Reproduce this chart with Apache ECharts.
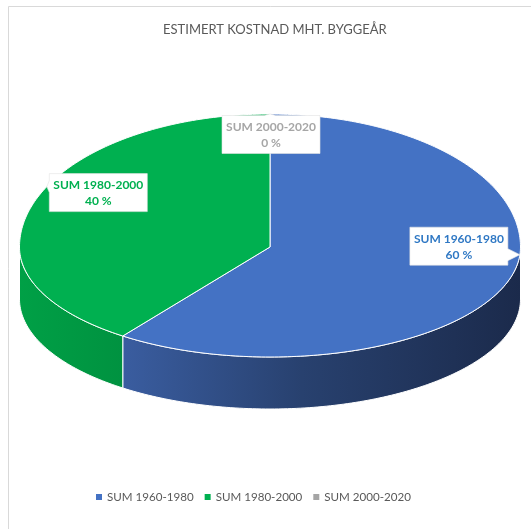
<!DOCTYPE html>
<html>
<head>
<meta charset="utf-8">
<script src="https://cdn.jsdelivr.net/npm/echarts@6/dist/echarts.min.js"></script>
<style>
  html, body { margin: 0; padding: 0; background: #fff; }
  #chart { width: 531px; height: 529px; }
</style>
</head>
<body>
<div id="chart"></div>
<script>
// Cost share per construction period (percent)
const categories = ['SUM 1960-1980', 'SUM 1980-2000', 'SUM 2000-2020'];
const costShare = [60, 40, 0];

// Visual styling
const topColors = ['#4472C4', '#00B050', '#A5A5A5'];
const sideStops = [
  [[0, '#3A5DA0'], [0.45, '#28416F'], [1, '#1B2A4B']],
  [[0, '#00A046'], [1, '#009240']],
  [[0, '#8C8C8C'], [1, '#707070']]
];
const labelColors = ['#2F78C4', '#00B050', '#A6A6A6'];
const FONT = 'Lato, "Open Sans", sans-serif';

// Tilted disc geometry (back half appears taller than the front half)
const disc = { cx: 270, cy: 247, rx: 250.5, ryBack: 133, ryFront: 110, depth: 52 };

// Callout placement: rim angle of the pointer tip and box offset from it
const callouts = [
  { tip: 94, dx: -61, dy: -8.5 },
  { tip: 297, dx: 51.5, dy: 6 },
  { tip: 0, dx: 1, dy: 20.5 }
];
const BOX_W = 98, BOX_H = 38;

const total = costShare.reduce((s, v) => s + v, 0);
const startAngles = [];
costShare.reduce((acc, v, i) => { startAngles[i] = 360 * acc / total; return acc + v; }, 0);

function rim(deg, drop) {
  const t = deg * Math.PI / 180;
  const c = Math.cos(t);
  const ry = c >= 0 ? disc.ryBack : disc.ryFront;
  return [disc.cx + disc.rx * Math.sin(t), disc.cy - ry * c + (drop || 0)];
}

function arc(a1, a2, drop) {
  const n = Math.max(2, Math.ceil(Math.abs(a2 - a1)));
  const pts = [];
  for (let k = 0; k <= n; k++) pts.push(rim(a1 + (a2 - a1) * k / n, drop));
  return pts;
}

function calloutShape(tip, bx, by, w, h) {
  const l = bx - w / 2, r = bx + w / 2, t = by - h / 2, b = by + h / 2;
  const half = 6;
  const clamp = (v, lo, hi) => Math.max(lo, Math.min(hi, v));
  if (tip[0] > r) {
    const m = clamp(tip[1], t + half, b - half);
    return [[l, t], [r, t], [r, m - half], tip, [r, m + half], [r, b], [l, b]];
  }
  if (tip[0] < l) {
    const m = clamp(tip[1], t + half, b - half);
    return [[l, t], [r, t], [r, b], [l, b], [l, m + half], tip, [l, m - half]];
  }
  if (tip[1] < t) {
    const m = clamp(tip[0], l + half, r - half);
    return [[l, t], [m - half, t], tip, [m + half, t], [r, t], [r, b], [l, b]];
  }
  const m = clamp(tip[0], l + half, r - half);
  return [[l, t], [r, t], [r, b], [m + half, b], tip, [m - half, b], [l, b]];
}

function makeSeries(i) {
  return {
    type: 'custom',
    name: categories[i],
    coordinateSystem: 'none',
    itemStyle: { color: topColors[i] },
    data: [costShare[i]],
    renderItem: function (params, api) {
      const value = api.value(0);
      const a1 = startAngles[i];
      const a2 = a1 + 360 * value / total;
      const children = [];
      if (a2 > a1) {
        const s1 = Math.max(a1, 90), s2 = Math.min(a2, 270);
        if (s1 < s2) {
          const pts = arc(s1, s2, 0).concat(arc(s2, s1, disc.depth));
          children.push({
            type: 'polygon', z2: 1,
            shape: { points: pts },
            style: {
              fill: new echarts.graphic.LinearGradient(0, 0, 1, 0,
                sideStops[i].map(s => ({ offset: s[0], color: s[1] }))),
              stroke: '#FFFFFF', lineWidth: 1
            }
          });
        }
        children.push({
          type: 'polygon', z2: 2,
          shape: { points: [[disc.cx, disc.cy]].concat(arc(a1, a2, 0)) },
          style: { fill: topColors[i], stroke: '#FFFFFF', lineWidth: 1 }
        });
      }
      const co = callouts[i];
      const tip = rim(co.tip, 0);
      const bx = tip[0] + co.dx, by = tip[1] + co.dy;
      children.push({
        type: 'polygon', z2: 10,
        shape: { points: calloutShape(tip, bx, by, BOX_W, BOX_H) },
        style: { fill: '#FFFFFF', stroke: '#E3E3E3', lineWidth: 0.6 }
      });
      const pct = Math.round(100 * value / total) + ' %';
      [categories[i], pct].forEach((txt, k) => {
        children.push({
          type: 'text', z2: 11,
          x: bx, y: by - 7.5 + k * 16,
          style: {
            text: txt, fill: labelColors[i],
            font: 'bold 12px ' + FONT,
            align: 'center', verticalAlign: 'middle',
            textAlign: 'center', textVerticalAlign: 'middle'
          }
        });
      });
      return { type: 'group', children: children };
    }
  };
}

const chart = echarts.init(document.getElementById('chart'), null, { renderer: 'canvas' });
chart.setOption({
  backgroundColor: '#FFFFFF',
  animation: false,
  title: {
    text: 'ESTIMERT KOSTNAD MHT. BYGGEÅR',
    left: 158, top: 18,
    textStyle: { color: '#595959', fontSize: 13, fontWeight: 'normal', fontFamily: FONT }
  },
  legend: {
    left: 91, top: 486,
    icon: 'rect', itemWidth: 6, itemHeight: 6, itemGap: 11,
    selectedMode: false,
    textStyle: { color: '#595959', fontSize: 11.6, fontFamily: FONT },
    data: categories
  },
  graphic: [{
    type: 'polyline',
    shape: { points: [[8.5, 540], [8.5, 6.5], [540, 6.5]] },
    style: { stroke: '#D9D9D9', lineWidth: 1, fill: null }
  }],
  series: categories.map((_, i) => makeSeries(i))
});
</script>
</body>
</html>
